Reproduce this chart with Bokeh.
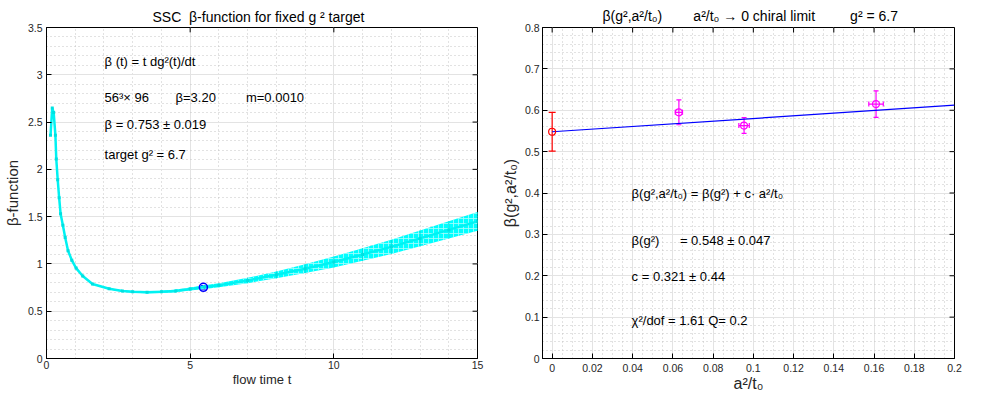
from bokeh.plotting import figure
from bokeh.layouts import row
from bokeh.models import ColumnDataSource, Whisker, Label, Range1d, FixedTicker, TeeHead, Title
from bokeh.embed import file_html
from bokeh.resources import INLINE
import numpy as np

# ---------------- data: left panel ----------------
flow_t = [0.14, 0.20, 0.25, 0.31, 0.34, 0.39, 0.44, 0.49, 0.57, 0.65, 0.75, 0.88, 1.03, 1.26, 1.60,
          2.18, 2.64, 3.0, 3.5, 4.0, 4.5, 5.0, 5.5, 6.0, 7.0, 8.0, 9.0, 10.0, 11.0, 12.0, 13.0, 14.0, 15.0]
beta_t = [2.36, 2.65, 2.60, 2.36, 2.11, 1.89, 1.70, 1.53, 1.41, 1.28, 1.14, 1.04, 0.956, 0.872, 0.788,
          0.737, 0.713, 0.705, 0.70, 0.705, 0.715, 0.735, 0.755, 0.775, 0.825, 0.885, 0.95, 1.02, 1.10, 1.18, 1.27, 1.36, 1.45]
beta_err = [0.004, 0.004, 0.004, 0.004, 0.004, 0.004, 0.004, 0.004, 0.004, 0.004, 0.004, 0.004, 0.005, 0.005, 0.006,
            0.007, 0.008, 0.009, 0.010, 0.012, 0.014, 0.016, 0.019, 0.022, 0.028, 0.036, 0.046, 0.058, 0.067, 0.075, 0.083, 0.092, 0.100]
t_sel = [5.46]
beta_sel = [0.753]
beta_sel_err = [0.019]
left_xticks = [0, 5, 10, 15]
left_yticks = [0, 0.5, 1, 1.5, 2, 2.5, 3, 3.5]

# ---------------- data: right panel ----------------
a2t0 = [0.063, 0.0954, 0.161]
a2t0_err = [0.0018, 0.0026, 0.0036]
beta_a = [0.595, 0.563, 0.615]
beta_a_err = [0.030, 0.019, 0.032]
beta_cont = [0.548]
beta_cont_err = [0.047]
x_cont = [0.0]
slope = 0.321
fit_x = [0.0, 0.2]
right_xticks = [0, 0.02, 0.04, 0.06, 0.08, 0.1, 0.12, 0.14, 0.16, 0.18, 0.2]
right_yticks = [0, 0.1, 0.2, 0.3, 0.4, 0.5, 0.6, 0.7, 0.8]

FONT = "Liberation Sans"
TXT = "#262626"
H = 394
NB = "\u00a0"


def fmt(v):
    return ("%g" % v)


def style(p, xt, xminor, yt, yminor, xr, yr, fw, fh, tick_px=5):
    p.background_fill_color = "white"
    p.border_fill_color = "white"
    p.outline_line_color = "black"
    p.outline_line_width = 1
    xtick = FixedTicker(ticks=xt, minor_ticks=xminor)
    ytick = FixedTicker(ticks=yt, minor_ticks=yminor)
    xb = p.below[0]
    yl = p.left[0]
    xb.ticker = xtick
    yl.ticker = ytick
    p.xgrid.ticker = xtick
    p.ygrid.ticker = ytick
    for g in (p.xgrid, p.ygrid):
        g.grid_line_color = "#e3e3e3"
        g.grid_line_width = 1
        g.minor_grid_line_color = "#c4c4c4"
        g.minor_grid_line_dash = "1 3"
        g.minor_grid_line_width = 1
    xb.major_label_overrides = {v: fmt(v) for v in xt}
    yl.major_label_overrides = {v: fmt(v) for v in yt}
    for ax in (xb, yl):
        ax.axis_line_color = "black"
        ax.major_tick_in = tick_px
        ax.major_tick_out = 0
        ax.minor_tick_in = 0
        ax.minor_tick_out = 0
        ax.major_tick_line_color = "black"
        ax.major_label_text_font = FONT
        ax.major_label_text_font_size = "10.5px"
        ax.major_label_text_color = TXT
        ax.axis_label_text_font = FONT
        ax.axis_label_text_font_style = "normal"
        ax.axis_label_text_color = TXT
    dy = (yr[1] - yr[0]) * tick_px / fh
    dx = (xr[1] - xr[0]) * tick_px / fw
    p.segment(x0=xt, y0=[yr[1]] * len(xt), x1=xt, y1=[yr[1] - dy] * len(xt), line_color="black", line_width=1)
    p.segment(x0=[xr[1]] * len(yt), y0=yt, x1=[xr[1] - dx] * len(yt), y1=yt, line_color="black", line_width=1)
    return xb, yl


# ---------------- left figure ----------------
XR1, YR1 = (0, 15), (0, 3.5)
p1 = figure(width=498, height=H, x_range=Range1d(*XR1), y_range=Range1d(*YR1),
            output_backend="svg", toolbar_location=None,
            min_border_left=40, min_border_right=21, min_border_top=22, min_border_bottom=31)
p1.title = Title(text="SSC" + NB * 2 + "β-function for fixed g" + NB + "² target", align="left", offset=106,
                 text_font=FONT, text_font_size="14px", text_font_style="normal", text_color="black",
                 standoff=5)
xb1, yl1 = style(p1, left_xticks, list(np.arange(0, 16, 1.0)), left_yticks, list(np.arange(0, 3.51, 0.1)),
                 XR1, YR1, 437, 341)
xb1.axis_label = "flow time t"
yl1.axis_label = "β-function"
xb1.axis_label_text_font_size = "13px"
yl1.axis_label_text_font_size = "15px"
xb1.axis_label_standoff = 0
yl1.axis_label_standoff = 4
xb1.major_label_standoff = 2
yl1.major_label_standoff = 4

lower = [b - e for b, e in zip(beta_t, beta_err)]
upper = [b + e for b, e in zip(beta_t, beta_err)]
src1 = ColumnDataSource(dict(t=flow_t, b=beta_t, lo=lower, hi=upper))
p1.varea(x="t", y1="lo", y2="hi", source=src1, fill_color="#00ffff", fill_alpha=1.0,
         hatch_pattern="+", hatch_color="#a8fdfd", hatch_scale=5, hatch_weight=0.8)
p1.line(x="t", y="b", source=src1, line_color="#00f2f2", line_width=2.5)
p1.segment(x0="t", y0="lo", x1="t", y1="hi", source=src1, line_color="#00dede", line_width=1)
p1.scatter(x="t", y="b", source=src1, marker="square", size=3, fill_color="#00e0e0", line_color=None)

src_sel = ColumnDataSource(dict(t=t_sel, b=beta_sel,
                                lo=[b - e for b, e in zip(beta_sel, beta_sel_err)],
                                hi=[b + e for b, e in zip(beta_sel, beta_sel_err)]))
p1.add_layout(Whisker(base="t", lower="lo", upper="hi", source=src_sel, line_color="blue",
                      upper_head=TeeHead(size=5, line_color="blue"),
                      lower_head=TeeHead(size=5, line_color="blue")))
p1.scatter(x="t", y="b", source=src_sel, marker="circle", size=8, fill_color=None,
           line_color="blue", line_width=1.6)

left_notes = [
    (2.02, 3.14, "β (t) = t dg²(t)/dt"),
    (2.02, 2.76, "56³× 96"),
    (4.49, 2.76, "β=3.20"),
    (6.94, 2.76, "m=0.0010"),
    (2.02, 2.475, "β = 0.753 ± 0.019"),
    (2.02, 2.16, "target g² = 6.7"),
]
for x, y, s in left_notes:
    p1.add_layout(Label(x=x, y=y, text=s, text_font=FONT, text_font_size="13px",
                        text_color="black", text_baseline="middle"))

# ---------------- right figure ----------------
XR2, YR2 = (-0.0048, 0.2), (0, 0.8)
p2 = figure(width=467, height=H, x_range=Range1d(*XR2), y_range=Range1d(*YR2),
            output_backend="svg", toolbar_location=None,
            min_border_left=41, min_border_right=11, min_border_top=27, min_border_bottom=36)
p2.title = Title(text="β(g²,a²/t₀)" + NB * 8 + "a²/t₀ → 0 chiral limit" + NB * 9 + "g² = 6.7",
                 align="left", offset=60, text_font=FONT, text_font_size="14px",
                 text_font_style="normal", text_color="black", standoff=8)
xb2, yl2 = style(p2, right_xticks, list(np.arange(0, 0.2001, 0.005)), right_yticks, list(np.arange(0, 0.8001, 0.02)),
                 XR2, YR2, 415, 331)
xb2.axis_label = "a²/t₀"
yl2.axis_label = "β(g²,a²/t₀)"
xb2.axis_label_text_font_size = "16px"
yl2.axis_label_text_font_size = "16px"
xb2.axis_label_standoff = 0
yl2.axis_label_standoff = 3
xb2.major_label_standoff = 5
yl2.major_label_standoff = 3

p2.line(x=fit_x, y=[beta_cont[0] + slope * x for x in fit_x], line_color="blue", line_width=1.2)

src_c = ColumnDataSource(dict(x=x_cont, y=beta_cont,
                              lo=[b - e for b, e in zip(beta_cont, beta_cont_err)],
                              hi=[b + e for b, e in zip(beta_cont, beta_cont_err)]))
p2.add_layout(Whisker(base="x", lower="lo", upper="hi", source=src_c, line_color="red", line_width=1.2,
                      upper_head=TeeHead(size=7, line_color="red", line_width=1.2),
                      lower_head=TeeHead(size=7, line_color="red", line_width=1.2)))
p2.scatter(x="x", y="y", source=src_c, marker="circle", size=7, fill_color=None,
           line_color="red", line_width=1.2)

src_m = ColumnDataSource(dict(x=a2t0, y=beta_a,
                              ylo=[b - e for b, e in zip(beta_a, beta_a_err)],
                              yhi=[b + e for b, e in zip(beta_a, beta_a_err)],
                              xlo=[a - e for a, e in zip(a2t0, a2t0_err)],
                              xhi=[a + e for a, e in zip(a2t0, a2t0_err)]))
p2.add_layout(Whisker(base="x", lower="ylo", upper="yhi", source=src_m, line_color="magenta", line_width=1.2,
                      upper_head=TeeHead(size=5, line_color="magenta", line_width=1.2),
                      lower_head=TeeHead(size=5, line_color="magenta", line_width=1.2)))
p2.add_layout(Whisker(base="y", lower="xlo", upper="xhi", source=src_m, dimension="width",
                      line_color="magenta", line_width=1.2,
                      upper_head=TeeHead(size=5, line_color="magenta", line_width=1.2),
                      lower_head=TeeHead(size=5, line_color="magenta", line_width=1.2)))
p2.scatter(x="x", y="y", source=src_m, marker="circle", size=7, fill_color=None,
           line_color="magenta", line_width=1.2)

right_notes = [
    (0.0395, 0.398, "β(g²,a²/t₀) = β(g²) + c· a²/t₀"),
    (0.0395, 0.286, "β(g²)"),
    (0.0635, 0.286, "=  0.548 ± 0.047"),
    (0.0395, 0.198, "c =  0.321 ± 0.44"),
    (0.0395, 0.092, "χ²/dof = 1.61   Q= 0.2"),
]
for x, y, s in right_notes:
    p2.add_layout(Label(x=x, y=y, text=s, text_font=FONT, text_font_size="13px",
                        text_color="black", text_baseline="middle"))

layout = row(p1, p2)
open("out.html", "w").write(file_html(layout, INLINE))
